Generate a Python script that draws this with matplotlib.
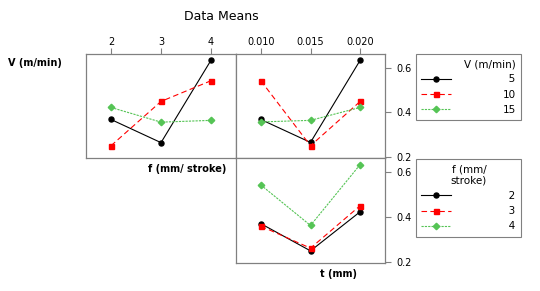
import matplotlib
matplotlib.use("Agg")
import matplotlib.pyplot as plt

# factor levels
f_levels = [2, 3, 4]
t_levels = [0.010, 0.015, 0.020]
v_labels = ["5", "10", "15"]
f_labels = ["2", "3", "4"]

# V x f : one series per V level, over f
vf_means = [
    [0.368, 0.264, 0.634],   # V=5
    [0.250, 0.449, 0.542],   # V=10
    [0.422, 0.356, 0.364],   # V=15
]
# V x t : one series per V level, over t
vt_means = [
    [0.368, 0.265, 0.634],
    [0.542, 0.250, 0.449],
    [0.357, 0.364, 0.422],
]
# f x t : one series per f level, over t
ft_means = [
    [0.370, 0.249, 0.423],   # f=2
    [0.359, 0.261, 0.450],   # f=3
    [0.542, 0.362, 0.633],   # f=4
]

colors = ["black", "#ff0000", "#55c455"]
markers = ["o", "s", "D"]
msizes = [3.6, 3.6, 3.3]
styles = ["-", (0, (5, 3)), (0, (2, 1))]
frame = "#808080"

W, H = 540, 291
fig = plt.figure(figsize=(W / 100, H / 100), dpi=100)


def box(l, r, t, b):
    return [l / W, 1 - b / H, (r - l) / W, (b - t) / H]


ax1 = fig.add_axes(box(86, 236, 54, 158))
ax2 = fig.add_axes(box(236, 385, 54, 158))
ax3 = fig.add_axes(box(236, 385, 158, 263))


def draw(ax, x, series):
    lines = []
    for i, ys in enumerate(series):
        ln, = ax.plot(x, ys, color=colors[i], marker=markers[i], ms=msizes[i],
                      ls=styles[i], lw=0.8, mec=colors[i])
        lines.append(ln)
    ax.set_ylim(0.195, 0.662)
    for s in ax.spines.values():
        s.set_color(frame)
        s.set_linewidth(0.9)
    return lines


h1 = draw(ax1, f_levels, vf_means)
draw(ax2, t_levels, vt_means)
h3 = draw(ax3, t_levels, ft_means)

ax1.set_xlim(1.5, 4.5)
ax2.set_xlim(0.0075, 0.0225)
ax3.set_xlim(0.0075, 0.0225)

for ax in (ax1, ax2):
    ax.xaxis.tick_top()
ax1.set_xticks(f_levels)
ax1.set_xticklabels(f_labels)
ax2.set_xticks(t_levels)
ax2.set_xticklabels(["0.010", "0.015", "0.020"])
ax1.set_yticks([])
ax3.set_xticks([])
for ax in (ax2, ax3):
    ax.yaxis.tick_right()
    ax.set_yticks([0.2, 0.4, 0.6])
    ax.set_yticklabels(["0.2", "0.4", "0.6"])
for ax in (ax1, ax2, ax3):
    ax.tick_params(labelsize=7, length=4, width=0.8, color=frame)
    ax.tick_params(axis="x", pad=1.0)
    ax.tick_params(axis="y", pad=4.5)

fig.text(221 / W, 1 - 16 / H, "Data Means", ha="center", va="center", fontsize=9)
fig.text(8 / W, 1 - 63 / H, "V (m/min)", ha="left", va="center",
         fontsize=7, fontweight="bold")
fig.text(226 / W, 1 - 169 / H, "f (mm/ stroke)", ha="right", va="center",
         fontsize=7, fontweight="bold")
fig.text(338 / W, 1 - 274 / H, "t (mm)", ha="center", va="center",
         fontsize=7, fontweight="bold")


def legend(handles, labels, title, top, align):
    pad = ["\u2007" + s if len(s) == 1 else s for s in labels]
    leg = fig.legend(handles, pad, title=title, loc="upper left",
                     bbox_to_anchor=(416 / W, 1 - top / H),
                     bbox_transform=fig.transFigure, borderaxespad=0,
                     fontsize=7.5, title_fontsize=7.5, handlelength=2.9,
                     handletextpad=4.9, labelspacing=0.5, borderpad=0.5,
                     fancybox=False, framealpha=1, edgecolor=frame,
                     alignment=align)
    leg.get_frame().set_linewidth(0.8)
    leg.get_title().set_multialignment("right")
    return leg


legend(h1, v_labels, "V (m/min)", 54, "right")
legend(h3, f_labels, "f (mm/\nstroke)", 159, "center")

fig.savefig("out.png", dpi=100)
